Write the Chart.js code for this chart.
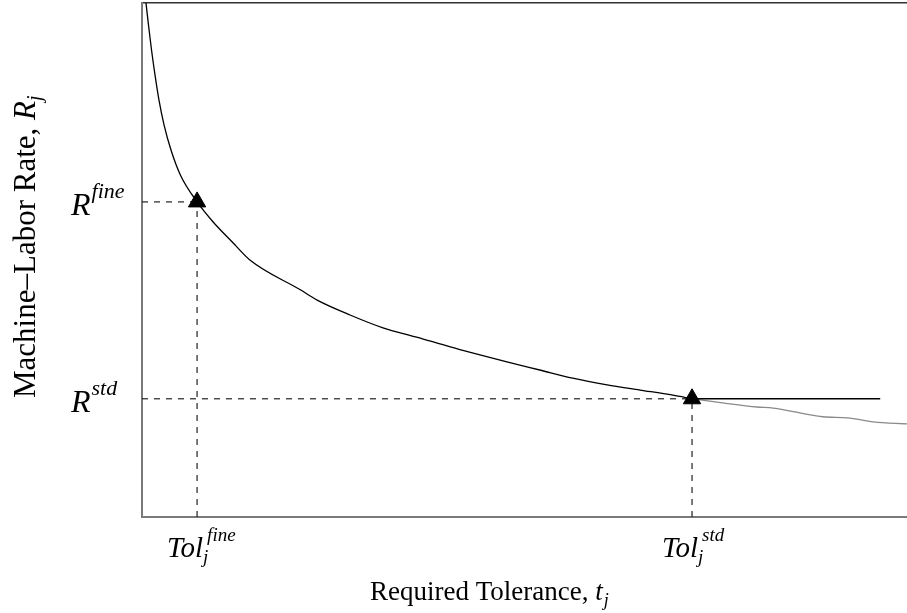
<!DOCTYPE html>
<html>
<head>
<meta charset="utf-8">
<script src="https://cdn.jsdelivr.net/npm/chart.js@4.4.1/dist/chart.umd.min.js"></script>
<style>
  html, body { margin: 0; padding: 0; background: #fff; }
  #wrap { width: 907px; height: 613px; }
</style>
</head>
<body>
<div id="wrap"><canvas id="rateChart" width="907" height="613"></canvas></div>
<script>
/* ------------------------------------------------------------
   DATA (arbitrary 0-10 units)
   ------------------------------------------------------------ */
const tolerance = [0.052, 0.085, 0.124, 0.170, 0.222, 0.288, 0.379, 0.503, 0.72, 0.93, 1.18, 1.41, 2.07, 2.29, 2.72, 3.15, 3.59, 4.03, 4.33, 4.77, 5.20, 5.63, 6.08, 6.51, 6.94, 7.19];
const rate      = [10.0, 9.57, 9.09, 8.60, 8.11, 7.63, 7.14, 6.65, 6.13, 5.74, 5.35, 5.00, 4.42, 4.22, 3.93, 3.68, 3.50, 3.31, 3.19, 3.02, 2.86, 2.70, 2.57, 2.47, 2.37, 2.30];

const tailTol  = [7.19, 7.59, 8.04, 8.25, 8.90, 9.22, 9.56, 10.0];
const tailRate = [2.30, 2.22, 2.14, 2.12, 1.95, 1.93, 1.85, 1.81];

const markTol  = [0.72, 7.19];   // Tol_j^fine, Tol_j^std
const markRate = [6.13, 2.30];   // R^fine, R^std
const flatEndTol = 9.65;

const tickSup = ["fine", "std"];

/* ------------------------------------------------------------
   DATASETS
   ------------------------------------------------------------ */
const pts = (xs, ys) => xs.map((x, i) => ({ x: x, y: ys[i] }));
const dashStyle = { borderColor: "#222", borderWidth: 1.2, borderDash: [6, 6], pointRadius: 0, fill: false, tension: 0 };

const datasets = [
    {
        label: "marks",
        data: pts(markTol, markRate),
        showLine: false,
        pointStyle: "triangle",
        pointRadius: 10,
        pointBackgroundColor: "#000",
        pointBorderColor: "#000",
        pointBorderWidth: 1
    },
    {
        label: "rate",
        data: pts(tolerance, rate),
        borderColor: "#000",
        borderWidth: 1.3,
        pointRadius: 0,
        cubicInterpolationMode: "monotone"
    },
    {
        label: "flat",
        data: [{ x: markTol[1], y: markRate[1] }, { x: flatEndTol, y: markRate[1] }],
        borderColor: "#000",
        borderWidth: 1.4,
        pointRadius: 0
    },
    {
        label: "tail",
        data: pts(tailTol, tailRate),
        borderColor: "#8a8a8a",
        borderWidth: 1.3,
        pointRadius: 0,
        cubicInterpolationMode: "monotone"
    }
];

markTol.forEach((t, i) => {
    datasets.push(Object.assign({ data: [{ x: 0, y: markRate[i] }, { x: t, y: markRate[i] }] }, dashStyle));
    datasets.push(Object.assign({ data: [{ x: t, y: 0 }, { x: t, y: markRate[i] }] }, dashStyle));
});

/* ------------------------------------------------------------
   TEXT HELPERS
   ------------------------------------------------------------ */
const SERIF = "'Liberation Serif', 'Times New Roman', serif";

function drawRich(ctx, x, y, parts) {
    let cx = x;
    parts.forEach(p => {
        ctx.font = p.font;
        ctx.fillText(p.text, cx + (p.dx || 0), y + (p.dy || 0));
        cx += ctx.measureText(p.text).width + (p.dx || 0);
    });
    return cx;
}

const labelPlugin = {
    id: "labels",
    afterDraw(chart) {
        const ctx = chart.ctx;
        const xs = chart.scales.x;
        const ys = chart.scales.y;
        ctx.save();
        ctx.fillStyle = "#000";
        ctx.textBaseline = "alphabetic";
        ctx.textAlign = "left";

        // y tick labels: R^fine, R^std
        markRate.forEach((r, i) => {
            const py = ys.getPixelForValue(r);
            drawRich(ctx, 71, py + 13, [
                { text: "R", font: "italic 32px " + SERIF },
                { text: tickSup[i], font: "italic 22px " + SERIF, dy: -17, dx: 1 }
            ]);
        });

        // x tick labels: Tol_j^fine, Tol_j^std
        markTol.forEach((t, i) => {
            const px = xs.getPixelForValue(t);
            const after = drawRich(ctx, px - 30, 557, [
                { text: "Tol", font: "italic 29px " + SERIF }
            ]);
            drawRich(ctx, after, 563, [{ text: "j", font: "italic 19px " + SERIF }]);
            drawRich(ctx, after + 4, 541, [{ text: tickSup[i], font: "italic 19px " + SERIF }]);
        });

        // x axis title
        let ex = drawRich(ctx, 370, 600, [
            { text: "Required Tolerance, ", font: "27px " + SERIF },
            { text: "t", font: "italic 27px " + SERIF }
        ]);
        drawRich(ctx, ex + 1, 606, [{ text: "j", font: "italic 18px " + SERIF }]);

        // y axis title
        ctx.translate(35, 398);
        ctx.rotate(-Math.PI / 2);
        ex = drawRich(ctx, 0, 0, [
            { text: "Machine\u2013Labor Rate, ", font: "31px " + SERIF },
            { text: "R", font: "italic 31px " + SERIF }
        ]);
        drawRich(ctx, ex, 6, [{ text: "j", font: "italic 20px " + SERIF }]);

        ctx.restore();
    }
};

/* ------------------------------------------------------------
   CHART
   ------------------------------------------------------------ */
new Chart(document.getElementById("rateChart"), {
    type: "line",
    data: { datasets: datasets },
    options: {
        responsive: false,
        animation: false,
        devicePixelRatio: 1,
        layout: { padding: 0, autoPadding: false },
        plugins: { legend: { display: false }, tooltip: { enabled: false } },
        scales: {
            x: {
                type: "linear",
                position: "bottom",
                min: 0, max: 10,
                grid: { display: false },
                ticks: { display: false },
                border: { display: true, color: "#7a7a7a", width: 2 },
                afterFit(scale) { scale.height = 96; }
            },
            xTop: {
                type: "linear",
                position: "top",
                min: 0, max: 10,
                grid: { display: false },
                ticks: { display: false },
                border: { display: true, color: "#333", width: 1.5 },
                afterFit(scale) { scale.height = 3; }
            },
            y: {
                type: "linear",
                position: "left",
                min: 0, max: 10,
                grid: { display: false },
                ticks: { display: false },
                border: { display: true, color: "#7a7a7a", width: 2 },
                afterFit(scale) { scale.width = 142; }
            }
        }
    },
    plugins: [labelPlugin]
});
</script>
</body>
</html>
